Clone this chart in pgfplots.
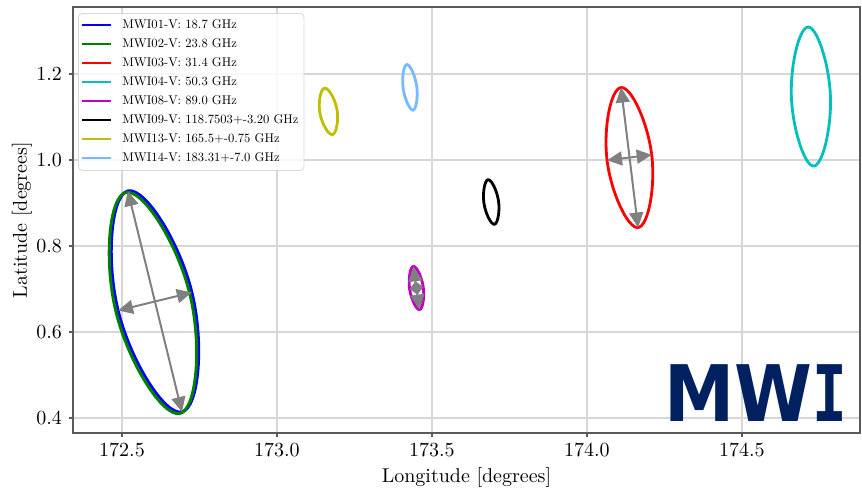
\documentclass[border=0pt]{standalone}
\usepackage{fontspec}
\usepackage{pgfplots}
\pgfplotsset{compat=1.18}
\usetikzlibrary{arrows.meta,calc}
\newfontfamily\logosans{DejaVu Sans}
\newfontfamily\logomono{DejaVu Sans Mono}
\newfontfamily\legfont{lmroman10-regular.otf}
\definecolor{mwinavy}{RGB}{0,32,96}
\definecolor{mplb}{rgb}{0,0,1}
\definecolor{mplg}{rgb}{0,0.5,0}
\definecolor{mplr}{rgb}{1,0,0}
\definecolor{mplc}{rgb}{0,0.75,0.75}
\definecolor{mplm}{rgb}{0.75,0,0.75}
\definecolor{mplk}{rgb}{0,0,0}
\definecolor{mply}{rgb}{0.75,0.75,0}
\definecolor{mwilb}{RGB}{120,185,255}
\definecolor{arrgray}{RGB}{128,128,128}
\definecolor{spine}{RGB}{90,90,90}
\definecolor{gridc}{RGB}{215,215,215}
\begin{document}
\begin{tikzpicture}
\begin{axis}[
  scale only axis,
  width=393.5pt, height=213pt,
  xmin=172.342, xmax=174.881,
  ymin=0.365, ymax=1.356,
  xtick={172.5,173.0,173.5,174.0,174.5},
  ytick={0.4,0.6,0.8,1.0,1.2},
  xticklabel style={/pgf/number format/.cd, fixed, fixed zerofill, precision=1},
  yticklabel style={/pgf/number format/.cd, fixed, fixed zerofill, precision=1},
  xtick pos=bottom, ytick pos=left,
  tick align=outside, major tick length=2pt,
  every tick/.style={spine, line width=0.6pt},
  axis line style={spine, line width=0.6pt},
  grid=major,
  major grid style={gridc, line width=0.8pt},
  xlabel={Longitude [degrees]},
  ylabel={Latitude [degrees]},
  xlabel style={at={(axis description cs:0.5,0)}, anchor=base, yshift=-24.85pt},
  ylabel style={at={(axis description cs:-0.0648,0.5)}, anchor=center},
  legend cell align=left,
  legend style={at={(0,1)}, anchor=north west, xshift=2.5pt, yshift=-3pt,
    draw=black!15, rounded corners=2pt, fill=white, fill opacity=0.8, text opacity=1,
    font=\legfont\fontsize{6.3}{7.5}\selectfont, inner xsep=1.25pt, inner ysep=1.5pt,
    row sep=0.5pt,
    nodes={inner sep=1.5pt, text height=4.6pt, text depth=1.4pt}},
  legend image code/.code={\draw[#1, line width=1pt] (0pt,0pt) -- (14.5pt,0pt); \path (18pt,0pt);},
  ellipse/.style={smooth cycle, tension=0.828},
]
\addplot[mplb, line width=1.5pt, ellipse] coordinates {(172.519,0.928) (172.7255,0.6919) (172.6935,0.414) (172.4874,0.650)};
\addlegendentry{MWI01-V: 18.7 GHz}
\addplot[mplg, line width=1.5pt, ellipse] coordinates {(172.5125,0.9245) (172.719,0.6884) (172.687,0.4105) (172.4809,0.6465)};
\addlegendentry{MWI02-V: 23.8 GHz}
\addplot[mplr, line width=1.4pt, ellipse] coordinates {(174.110,1.1686) (174.209,1.0121) (174.165,0.843) (174.065,0.9995)};
\addlegendentry{MWI03-V: 31.4 GHz}
\addplot[mplc, line width=1.4pt, ellipse] coordinates {(174.7135,1.3093) (174.7855,1.1495) (174.7316,0.986) (174.6597,1.1458)};
\addlegendentry{MWI04-V: 50.3 GHz}
\addplot[mplm, line width=1.4pt, ellipse] coordinates {(173.44,0.7526) (173.4719,0.7047) (173.46,0.6521) (173.428,0.70)};
\addlegendentry{MWI08-V: 89.0 GHz}
\addplot[mplk, line width=1.4pt, ellipse] coordinates {(173.681,0.9542) (173.7148,0.9048) (173.7016,0.8505) (173.6677,0.8999)};
\addlegendentry{MWI09-V: 118.7503+-3.20 GHz}
\addplot[mply, line width=1.4pt, ellipse] coordinates {(173.1535,1.1672) (173.1939,1.1166) (173.1787,1.0593) (173.1384,1.1099)};
\addlegendentry{MWI13-V: 165.5+-0.75 GHz}
\addplot[mwilb, line width=1.4pt, ellipse] coordinates {(173.419,1.2221) (173.451,1.1712) (173.439,1.116) (173.4071,1.167)};
\addlegendentry{MWI14-V: 183.31+-7.0 GHz}
% axis arrows
\pgfplotsset{arr/.style={arrgray, line width=1pt, forget plot,
  {Triangle[length=7.5pt,width=7pt]}-{Triangle[length=7.5pt,width=7pt]}},
  arrs/.style={arrgray, line width=1pt, forget plot,
  {Triangle[length=3.4pt,width=6.5pt]}-{Triangle[length=3.4pt,width=6.5pt]}}}
\addplot[arr] coordinates {(172.519,0.928) (172.6935,0.414)};
\addplot[arr] coordinates {(172.4874,0.650) (172.7255,0.6919)};
\addplot[arr] coordinates {(174.110,1.1686) (174.165,0.843)};
\addplot[arr] coordinates {(174.065,0.9995) (174.209,1.0121)};
\addplot[arr] coordinates {(173.44,0.7526) (173.46,0.6521)};
\addplot[arrs] coordinates {(173.428,0.70) (173.4719,0.7047)};
\end{axis}
\node[anchor=base east, inner sep=0pt, text=mwinavy,
  font=\logosans\bfseries\fontsize{39}{42}\selectfont]
  at ($(current axis.south east)+(-6pt,6pt)$) {\scalebox{0.905}[1]{MW}\scalebox{0.74}[1]{\logomono\bfseries I}};
\pgfresetboundingbox
\path[use as bounding box] ($(current axis.south west)+(-36.5pt,-28pt)$) rectangle ($(current axis.north east)+(1pt,3.5pt)$);
\end{tikzpicture}
\end{document}
